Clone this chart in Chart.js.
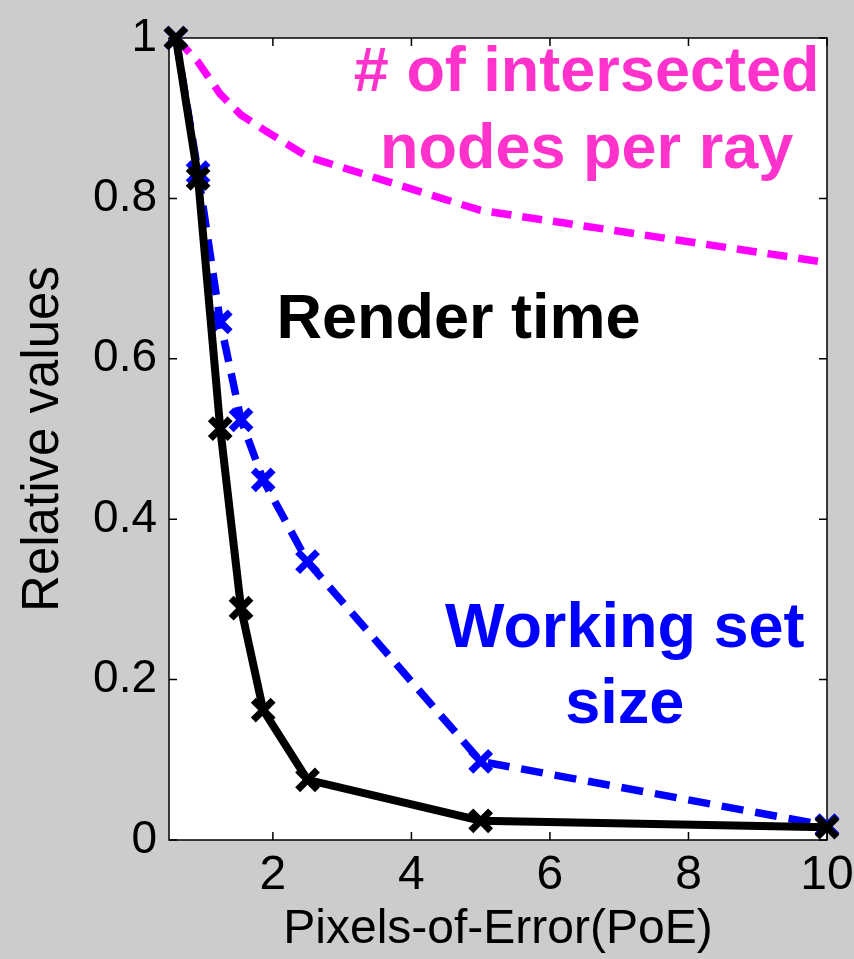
<!DOCTYPE html>
<html>
<head>
<meta charset="utf-8">
<script src="https://cdn.jsdelivr.net/npm/chart.js@4.4.1/dist/chart.umd.min.js"></script>
<style>
  html, body { margin: 0; padding: 0; background: #cccccc; }
  #wrap { width: 854px; height: 959px; position: relative; }
</style>
</head>
<body>
<div id="wrap"><canvas id="c" width="854" height="959"></canvas></div>
<script>
// ---- data ----
const poe = [0.6, 0.92, 1.24, 1.54, 1.86, 2.5, 5, 10];
const renderTime = [1.0, 0.825, 0.513, 0.289, 0.162, 0.075, 0.024, 0.016];
const workingSetSize = [1.0, 0.832, 0.646, 0.524, 0.449, 0.347, 0.098, 0.018];
const nodesPerRay = [1.0, 0.97, 0.93, 0.904, 0.886, 0.852, 0.785, 0.72];
const xTickValues = [2, 4, 6, 8, 10];
const yTickValues = [0, 0.2, 0.4, 0.6, 0.8, 1];
const xTitle = 'Pixels-of-Error(PoE)';
const yTitle = 'Relative values';
const annotationTexts = ['# of intersected', 'nodes per ray', 'Render time', 'Working set', 'size'];

// ---- presentation ----
const FONT = "'Liberation Sans', Arial, Helvetica, sans-serif";
const annotationX = [6.53, 6.53, 4.68, 7.08, 7.08];
const annotationY = [0.956, 0.859, 0.647, 0.262, 0.168];
const annotationColors = ['#ff33cc', '#ff33cc', '#000000', '#0000ff', '#0000ff'];

function pts(ys) { return poe.map((x, i) => ({ x: x, y: ys[i] })); }

const framePlugin = {
  id: 'frame',
  beforeDraw(chart) {
    const { ctx, chartArea: a } = chart;
    ctx.save();
    ctx.fillStyle = '#ffffff';
    ctx.fillRect(a.left, a.top, a.right - a.left, a.bottom - a.top);
    ctx.restore();
  },
  beforeDatasetsDraw(chart) {
    const { ctx, chartArea: a, scales } = chart;
    ctx.save();
    ctx.strokeStyle = '#000000';
    ctx.lineWidth = 1.5;
    ctx.strokeRect(a.left, a.top, a.right - a.left, a.bottom - a.top);
    const tl = 8;
    ctx.beginPath();
    scales.x.ticks.forEach(t => {
      const px = scales.x.getPixelForValue(t.value);
      ctx.moveTo(px, a.bottom); ctx.lineTo(px, a.bottom - tl);
      ctx.moveTo(px, a.top); ctx.lineTo(px, a.top + tl);
    });
    scales.y.ticks.forEach(t => {
      const py = scales.y.getPixelForValue(t.value);
      ctx.moveTo(a.left, py); ctx.lineTo(a.left + tl, py);
      ctx.moveTo(a.right, py); ctx.lineTo(a.right - tl, py);
    });
    ctx.stroke();
    ctx.restore();
  },
  afterDatasetsDraw(chart) {
    const { ctx, scales } = chart;
    ctx.save();
    ctx.font = 'bold 63px ' + FONT;
    ctx.textAlign = 'center';
    ctx.textBaseline = 'middle';
    annotationTexts.forEach((txt, i) => {
      ctx.fillStyle = annotationColors[i];
      ctx.fillText(txt, scales.x.getPixelForValue(annotationX[i]), scales.y.getPixelForValue(annotationY[i]));
    });
    ctx.restore();
  }
};

new Chart(document.getElementById('c'), {
  type: 'scatter',
  data: {
    datasets: [
      {
        label: 'Render time',
        data: pts(renderTime),
        showLine: true,
        borderColor: '#000000',
        backgroundColor: '#000000',
        borderWidth: 8,
        pointStyle: 'crossRot',
        pointRadius: 14,
        pointBorderWidth: 7,
        pointBorderColor: '#000000',
        tension: 0,
        clip: false
      },
      {
        label: 'Working set size',
        data: pts(workingSetSize),
        showLine: true,
        borderColor: '#0000ff',
        backgroundColor: '#0000ff',
        borderWidth: 7.5,
        borderDash: [22, 12],
        pointStyle: 'crossRot',
        pointRadius: 14,
        pointBorderWidth: 7,
        pointBorderColor: '#0000ff',
        tension: 0,
        clip: false
      },
      {
        label: '# of intersected nodes per ray',
        data: pts(nodesPerRay),
        showLine: true,
        borderColor: '#ff00ff',
        backgroundColor: '#ff00ff',
        borderWidth: 7.5,
        borderDash: [20, 11],
        pointRadius: 0,
        tension: 0,
        clip: false
      }
    ]
  },
  options: {
    responsive: false,
    animation: false,
    layout: { padding: { top: 38, right: 27, left: 0, bottom: 0 } },
    plugins: { legend: { display: false }, tooltip: { enabled: false } },
    scales: {
      x: {
        type: 'linear',
        position: 'bottom',
        min: 0.5,
        max: 10,
        grid: { display: false, drawTicks: false },
        border: { display: false },
        afterBuildTicks: s => { s.ticks = xTickValues.map(v => ({ value: v })); },
        afterFit: s => { s.height = 119; s.paddingLeft = 0; s.paddingRight = 0; },
        ticks: {
          color: '#000000',
          font: { family: FONT, size: 48 },
          padding: 7,
          maxRotation: 0,
          autoSkip: false,
          callback: v => String(v)
        },
        title: {
          display: true,
          text: xTitle,
          color: '#000000',
          font: { family: FONT, size: 48 },
          padding: { top: 0, bottom: 0 }
        }
      },
      y: {
        type: 'linear',
        position: 'left',
        min: 0,
        max: 1,
        grid: { display: false, drawTicks: false },
        border: { display: false },
        afterBuildTicks: s => { s.ticks = yTickValues.map(v => ({ value: v })); },
        afterFit: s => { s.width = 169; s.paddingTop = 0; s.paddingBottom = 0; },
        ticks: {
          color: '#000000',
          font: { family: FONT, size: 46 },
          padding: 12,
          autoSkip: false,
          callback: v => String(Math.round(v * 10) / 10)
        },
        title: {
          display: true,
          text: yTitle,
          color: '#000000',
          font: { family: FONT, size: 51 },
          padding: { top: 13, bottom: 0 }
        }
      }
    }
  },
  plugins: [framePlugin]
});
</script>
</body>
</html>
